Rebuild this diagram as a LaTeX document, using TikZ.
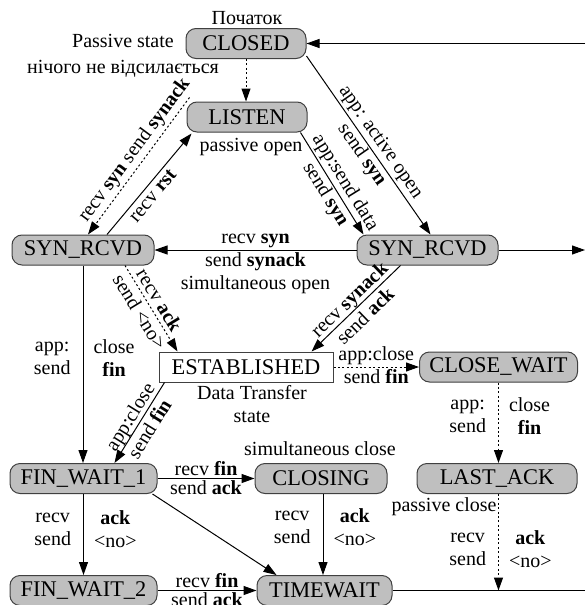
\documentclass[tikz,border=0pt]{standalone}
\usepackage{fontspec}
\setmainfont{Liberation Serif}
\usetikzlibrary{arrows.meta,calc}

\begin{document}
\begin{tikzpicture}[x=0.5pt, y=-0.5pt,
        >={Triangle[length=6.5pt,width=4.5pt]},
        tcpstate/.style={draw=black!75, line width=0.5pt, fill=gray!50,
            rounded corners=5pt, inner sep=0pt, minimum height=15pt,
            font=\fontsize{11.2}{13}\selectfont},
        openstate/.style={tcpstate, fill=white, rounded corners=0pt},
        lbl/.style={font=\fontsize{10}{11.5}\selectfont, inner sep=1pt},
        note/.style={font=\fontsize{10}{13}\selectfont, align=center, inner sep=0pt},
        wire/.style={line width=0.5pt, ->},
        weak/.style={wire, dash pattern=on 1pt off 1.2pt}]
        % 画布大小与原图一致,超出部分裁掉
        \useasboundingbox (0,0) rectangle (585,605);
        \clip (0,0) rectangle (585,605);

        % 状态结点(坐标按原图像素给出)
        \node[tcpstate, minimum width=60pt] (closed) at (246,43.5) {CLOSED};
        \node[tcpstate, minimum width=60pt] (listen) at (247,117) {LISTEN};
        \node[tcpstate, minimum width=71pt] (synL) at (83,250) {SYN\_RCVD};
        \node[tcpstate, minimum width=70.5pt] (synR) at (427.5,250) {SYN\_RCVD};
        \node[openstate, minimum width=87pt] (estab) at (246,367) {ESTABLISHED};
        \node[tcpstate, minimum width=79pt] (closewait) at (498.5,367) {CLOSE\_WAIT};
        \node[tcpstate, minimum width=73.5pt] (finwait1) at (83.5,478.5) {FIN\_WAIT\_1};
        \node[tcpstate, minimum width=66pt] (closing) at (321,478.5) {CLOSING};
        \node[tcpstate, minimum width=80pt] (lastack) at (497,478.5) {LAST\_ACK};
        \node[tcpstate, minimum width=73.5pt] (finwait2) at (83.5,590.5) {FIN\_WAIT\_2};
        \node[tcpstate, minimum width=67.5pt] (timewait) at (324.5,590.5) {TIMEWAIT};

        % 说明文字
        \node[note] (start) at (247,18) {Початок};
        \node[note] (pnote) at (123,56) {Passive state\\нічого не відсилається};
        \node[note] (popen) at (251,147) {passive open};
        \node[note, font=\fontsize{10}{11.5}\selectfont] (dts) at (252,404) {Data Transfer\\state};
        \node[note] (sclose) at (320,449) {simultaneous close};
        \node[note] (pclose) at (444,507) {passive close};

        % 图边上的端点(连线从图外进出)
        \coordinate (rimTop) at (585,43.5);
        \coordinate (rimMid) at (585,250);
        \coordinate (rimLow) at (585,590.5);
        \coordinate (cdrop) at ($(closing.south)+(2,0)$);

        % 连线
        \draw[wire] (rimTop) -- (closed.east);
        \draw[weak] (closed.south) -- (closed.south |- listen.north);
        \draw[wire] ($(closed.south east)+(0,-3)$) --
            node[lbl, sloped, align=center, pos=0.52] {app: active open\\send \textbf{syn}}
            ($(synR.north)+(3,0)$);
        \draw[wire] ($(listen.south east)+(-7,0)$) --
            node[lbl, sloped, align=center, pos=0.55] {app:send data\\send \textbf{syn}}
            ($(synR.north west)+(7,0)$);
        \draw[wire] ($(synL.north)+(24,0)$) --
            node[lbl, sloped, below=1pt, pos=0.45] {recv \textbf{rst}}
            ($(listen.south west)+(5,1)$);
        \draw[weak] ($(listen.north west)+(3,-4)$) --
            node[lbl, sloped, above=0.5pt, pos=0.44] {recv \textbf{syn} send \textbf{synack}}
            ($(synL.north)+(5,0)$);
        \draw[wire] (synR.west) --
            node[lbl, above] {recv \textbf{syn}}
            node[lbl, below, align=center] {send \textbf{synack}\\simultaneous open}
            (synL.east);
        \draw[wire] (synR.east) -- (rimMid);
        \draw[weak] ($(synL.south)+(42,0)$) --
            node[lbl, sloped, align=center, pos=0.47] {recv \textbf{ack}\\send <no>}
            ($(estab.north west)+(19,0)$);
        \draw[wire] ($(synR.south)+(-27,0)$) --
            node[lbl, sloped, align=center, pos=0.49] {recv \textbf{synack}\\send \textbf{ack}}
            ($(estab.north east)+(-22,0)$);
        \draw[weak] (estab.east) --
            node[lbl, above] {app:close}
            node[lbl, below] {send \textbf{fin}}
            (closewait.west);
        \draw[weak] (closewait.south) --
            node[lbl, left=5pt, align=center, pos=0.42] {app:\\send}
            node[lbl, right=4pt, align=center, pos=0.42] {close\\\textbf{fin}}
            (closewait.south |- lastack.north);
        \draw[weak] (closewait.south |- lastack.south) --
            node[lbl, left=5pt, align=center, pos=0.57] {recv\\send}
            node[lbl, right=4pt, align=center, pos=0.57] {\textbf{ack}\\<no>}
            (closewait.south |- rimLow);
        \draw[wire] (synL.south) --
            node[lbl, left=5pt, align=center, pos=0.47] {app:\\send}
            node[lbl, right=4pt, align=center, pos=0.47] {close\\\textbf{fin}}
            (synL.south |- finwait1.north);
        \draw[wire] ($(estab.south west)+(6,0)$) --
            node[lbl, sloped, align=center] {app:close\\send \textbf{fin}}
            ($(finwait1.north)+(31,0)$);
        \draw[wire] (finwait1.east) --
            node[lbl, above] {recv \textbf{fin}}
            node[lbl, below] {send \textbf{ack}}
            (closing.west);
        \draw[wire] ($(finwait1.south east)+(-5,0)$) -- ($(timewait.north west)+(20,0)$);
        \draw[wire] (finwait1.south) --
            node[lbl, left=5pt, align=center, pos=0.44] {recv\\send}
            node[lbl, right=4pt, align=center, pos=0.44] {\textbf{ack}\\<no>}
            (finwait2.north);
        \draw[wire] (cdrop) --
            node[lbl, left=5pt, align=center, pos=0.41] {recv\\send}
            node[lbl, right=4pt, align=center, pos=0.41] {\textbf{ack}\\<no>}
            (cdrop |- timewait.north);
        \draw[wire] (finwait2.east) --
            node[lbl, above] {recv \textbf{fin}}
            node[lbl, below] {send \textbf{ack}}
            (timewait.west);
        \draw[line width=0.5pt] (timewait.east) -- (rimLow);
    \end{tikzpicture}
\end{document}
